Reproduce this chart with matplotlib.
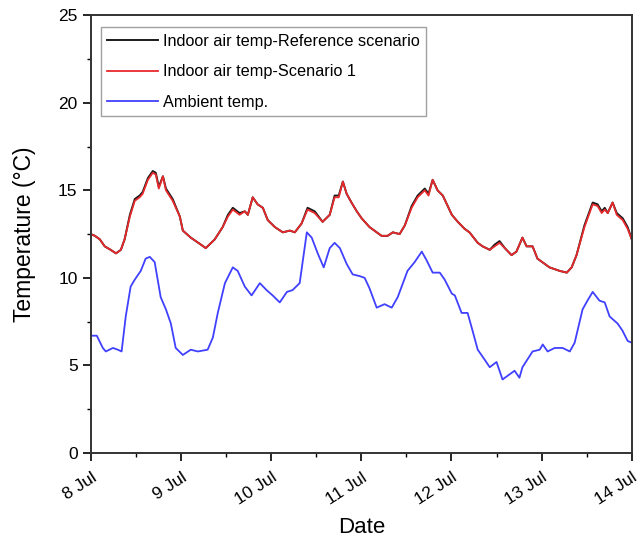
import matplotlib
matplotlib.use("Agg")
import matplotlib.pyplot as plt
import matplotlib.dates as mdates
import pandas as pd
import numpy as np

plt.rcParams['font.family'] = ['Liberation Sans', 'DejaVu Sans']

# Hours since 8 Jul 00:00 and values (°C)
indoor_hours = [0, 1.1, 2.4, 3.7, 5.3, 6.7, 8.0, 9.0, 10.4, 11.7, 13.0, 13.8, 15.2, 16.5, 17.3,
                18.1, 19.2, 20.0, 21.8, 23.7, 24.5, 26.6, 29.3, 30.6, 33.0, 35.1, 36.5, 37.8, 39.6,
                41.0, 41.8, 43.1, 44.4, 45.8, 47.1, 49.0, 51.1, 53.0, 54.3, 56.1, 57.7, 59.6, 61.7,
                63.6, 64.9, 66.0, 67.1, 68.1, 69.4, 70.8, 72.1, 74.2, 77.4, 79.0, 80.4, 82.2, 83.6,
                85.4, 87.0, 88.9, 89.9, 91.0, 92.3, 93.7, 96.1, 97.7, 99.5, 100.8, 103.0, 104.3,
                106.2, 107.5, 108.8, 110.2, 112.0, 113.3, 114.9, 116.0, 117.6, 118.9, 122.1, 124.8,
                126.7, 128.0, 129.3, 131.4, 133.6, 134.9, 136.0, 136.8, 137.6, 138.9, 140.0, 141.6,
                142.9, 144.0]
indoor_scenario1 = [12.5, 12.4, 12.2, 11.8, 11.6, 11.4, 11.6, 12.2, 13.5, 14.4, 14.6, 14.8, 15.6, 16.0, 15.9,
                    15.1, 15.8, 15.0, 14.4, 13.5, 12.7, 12.3, 11.9, 11.7, 12.2, 12.9, 13.5, 13.9, 13.6,
                    13.8, 13.6, 14.6, 14.2, 14.0, 13.3, 12.9, 12.6, 12.7, 12.6, 13.1, 13.9, 13.7, 13.2,
                    13.6, 14.6, 14.6, 15.5, 14.8, 14.3, 13.8, 13.4, 12.9, 12.4, 12.4, 12.6, 12.5, 13.0,
                    14.0, 14.6, 15.0, 14.7, 15.6, 15.0, 14.7, 13.6, 13.2, 12.8, 12.6, 12.0, 11.8,
                    11.6, 11.8, 12.0, 11.7, 11.3, 11.5, 12.3, 11.8, 11.8, 11.1, 10.6, 10.4,
                    10.3, 10.6, 11.3, 12.9, 14.2, 14.1, 13.7, 13.9, 13.7, 14.3, 13.6, 13.3,
                    12.8, 12.2]
indoor_reference = [12.5, 12.4, 12.2, 11.8, 11.6, 11.4, 11.6, 12.2, 13.6, 14.5, 14.7, 14.9, 15.7, 16.1, 16.0,
                    15.2, 15.8, 15.1, 14.5, 13.5, 12.7, 12.3, 11.9, 11.7, 12.2, 12.9, 13.6, 14.0, 13.7,
                    13.8, 13.6, 14.6, 14.2, 14.0, 13.3, 12.9, 12.6, 12.7, 12.6, 13.1, 14.0, 13.8, 13.2,
                    13.6, 14.7, 14.7, 15.5, 14.8, 14.3, 13.8, 13.4, 12.9, 12.4, 12.4, 12.6, 12.5, 13.0,
                    14.1, 14.7, 15.1, 14.8, 15.6, 15.0, 14.7, 13.6, 13.2, 12.8, 12.6, 12.0, 11.8,
                    11.6, 11.9, 12.1, 11.7, 11.3, 11.5, 12.3, 11.8, 11.8, 11.1, 10.6, 10.4,
                    10.3, 10.6, 11.3, 13.0, 14.3, 14.2, 13.8, 14.0, 13.7, 14.3, 13.7, 13.4,
                    12.9, 12.2]

ambient_hours = [0, 1.6, 3.2, 4.0, 5.9, 7.2, 8.2, 9.3, 10.6, 11.7, 13.3, 14.6, 15.7, 17.0, 17.8, 18.6,
                 20.0, 21.3, 22.6, 24.5, 26.6, 28.5, 31.1, 32.5, 33.8, 35.7, 37.8, 39.1, 41.0, 42.8,
                 45.0, 46.8, 48.4, 50.3, 52.2, 53.7, 55.6, 57.5, 58.8, 60.4, 62.0, 63.6, 64.9, 66.3,
                 68.1, 69.7, 71.6, 72.9, 74.2, 76.1, 78.2, 80.1, 81.7, 84.3, 86.2, 88.1, 89.4, 91.0,
                 92.9, 94.2, 96.1, 96.9, 98.7, 100.3, 101.6, 103.0, 104.3, 106.2, 108.0, 109.6,
                 112.8, 114.1, 114.9, 117.6, 119.5, 120.3, 121.6, 123.5, 125.6, 127.5, 128.8, 130.9,
                 132.2, 133.6, 135.4, 136.8, 138.1, 140.2, 141.5, 142.9, 144.0]
ambient_temp = [6.7, 6.7, 6.0, 5.8, 6.0, 5.9, 5.8, 7.8, 9.5, 9.9, 10.4, 11.1, 11.2, 10.9, 9.9, 8.9,
                8.2, 7.4, 6.0, 5.6, 5.9, 5.8, 5.9, 6.6, 8.0, 9.7, 10.6, 10.4, 9.5, 9.0,
                9.7, 9.3, 9.0, 8.6, 9.2, 9.3, 9.7, 12.6, 12.3, 11.4, 10.6, 11.7, 12.0, 11.7,
                10.8, 10.2, 10.1, 10.0, 9.4, 8.3, 8.5, 8.3, 8.9, 10.4, 10.9, 11.5, 11.0, 10.3,
                10.3, 9.9, 9.1, 9.0, 8.0, 8.0, 7.0, 5.9, 5.5, 4.9, 5.2, 4.2,
                4.7, 4.3, 4.9, 5.8, 5.9, 6.2, 5.8, 6.0, 6.0, 5.8, 6.3, 8.2,
                8.7, 9.2, 8.7, 8.6, 7.8, 7.4, 7.0, 6.4, 6.3]

series_labels = ['Indoor air temp-Reference scenario', 'Indoor air temp-Scenario 1', 'Ambient temp.']
y_ticks = [0, 5, 10, 15, 20, 25]

base = pd.Timestamp('2020-07-08')
t_in = base + pd.to_timedelta(indoor_hours, unit='h')
t_amb = base + pd.to_timedelta(ambient_hours, unit='h')

fig = plt.figure(figsize=(6.44, 5.40), dpi=100)
ax = fig.add_axes([0.141, 0.161, 0.840, 0.811])

ax.plot(t_in, indoor_reference, color='#1a1a1a', lw=1.4, label=series_labels[0])
ax.plot(t_in, indoor_scenario1, color='#e8292c', lw=1.3, label=series_labels[1])
ax.plot(t_amb, ambient_temp, color='#4040ff', lw=1.3, label=series_labels[2])

ax.set_xlim(base, base + pd.Timedelta(days=6))
ax.set_ylim(0, 25)
ax.set_yticks(y_ticks)
ax.yaxis.set_minor_locator(matplotlib.ticker.MultipleLocator(2.5))
ax.xaxis.set_major_locator(mdates.DayLocator())
ax.xaxis.set_minor_locator(mdates.HourLocator(byhour=[12]))
ax.xaxis.set_major_formatter(mdates.DateFormatter('%-d Jul'))

ax.tick_params(which='major', direction='out', length=6, width=1.2, labelsize=12.5)
ax.tick_params(axis='x', which='major', pad=6)
ax.tick_params(which='minor', direction='out', length=3, width=1.0)
for lab in ax.get_xticklabels():
    lab.set_rotation(33)
    lab.set_ha('right')
    lab.set_rotation_mode('anchor')
for s in ax.spines.values():
    s.set_linewidth(1.4)
    s.set_color('#333333')

ax.set_xlabel('Date', fontsize=16, labelpad=7)
ax.set_ylabel('Temperature (°C)', fontsize=16.5, labelpad=16)

leg = ax.legend(loc='upper left', bbox_to_anchor=(0.0185, 0.972), fontsize=11.7, frameon=True,
                fancybox=False, edgecolor='#888888', handlelength=3.1, handletextpad=0.3,
                borderpad=0.4, labelspacing=0.95, borderaxespad=0.0)
leg.get_frame().set_linewidth(1.0)

fig.savefig('out.png', dpi=100)
